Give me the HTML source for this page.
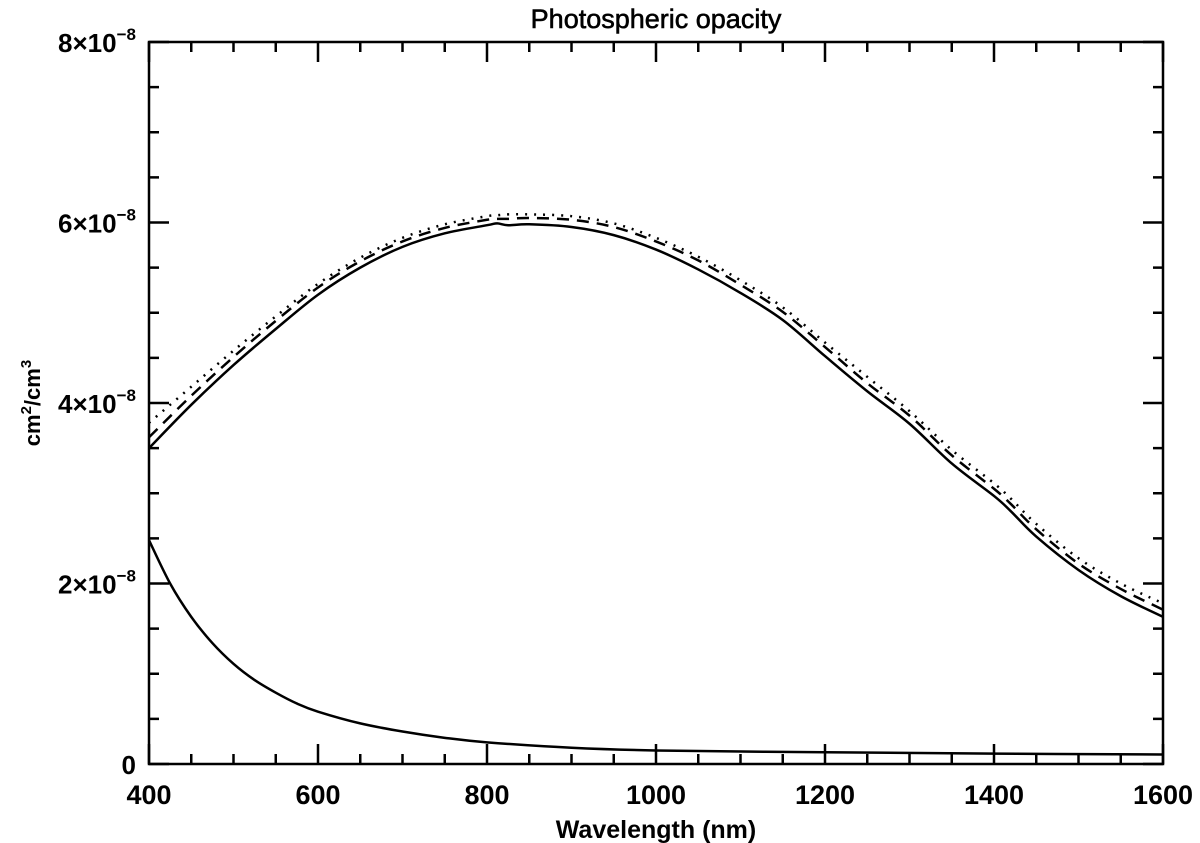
<!DOCTYPE html>
<html><head><meta charset="utf-8"><style>
body{margin:0;background:#fff;}
svg{display:block;font-family:"Liberation Sans",sans-serif;font-weight:bold;}
</style></head><body>
<svg id="chart" width="1200" height="843" viewBox="0 0 1200 843">
<text x="656" y="28" font-size="27" text-anchor="middle" font-weight="normal" stroke="#000" stroke-width="0.6">Photospheric opacity</text>
<g id="axes"></g>
<g id="series"></g>
<text x="656" y="838" font-size="25" text-anchor="middle">Wavelength (nm)</text>
<text transform="translate(40,403) rotate(-90)" font-size="22" text-anchor="middle">cm<tspan font-size="15" dy="-9">2</tspan><tspan dy="9">/cm</tspan><tspan font-size="15" dy="-9">3</tspan></text>
</svg>
<script>
const wavelengths=[400,450,500,550,600,650,700,750,800,812,825,850,900,950,1000,1050,1100,1150,1200,1250,1300,1350,1400,1420,1450,1500,1550,1600];
const solidVals=[3.50,3.98,4.42,4.82,5.20,5.50,5.73,5.88,5.97,5.99,5.97,5.98,5.95,5.86,5.70,5.48,5.22,4.92,4.52,4.13,3.77,3.33,2.97,2.80,2.52,2.15,1.86,1.63];
const dashedVals=[3.62,4.08,4.51,4.91,5.28,5.57,5.79,5.94,6.03,6.04,6.04,6.05,6.03,5.95,5.79,5.58,5.31,5.01,4.62,4.22,3.86,3.42,3.05,2.88,2.60,2.22,1.94,1.71];
const dottedVals=[3.78,4.18,4.58,4.96,5.32,5.61,5.83,5.98,6.07,6.08,6.09,6.09,6.07,5.99,5.83,5.62,5.36,5.06,4.67,4.29,3.91,3.48,3.11,2.94,2.66,2.28,2.00,1.78];
const lowWavelengths=[400,425,450,475,500,525,550,575,600,650,700,750,800,900,1000,1200,1400,1600];
const lowVals=[2.48,2.00,1.63,1.34,1.11,0.93,0.79,0.67,0.58,0.45,0.36,0.29,0.24,0.18,0.15,0.13,0.115,0.105];
const xTicks=[400,600,800,1000,1200,1400,1600];
const yTicks=[0,2,4,6,8];
const yTickLabels=["0","2×10","4×10","6×10","8×10"];

const X0=149,X1=1163,Y0=764,Y1=42;
const xs=v=>X0+(v-400)/1200*(X1-X0);
const ys=v=>Y0-v/8*(Y0-Y1);
const NS="http://www.w3.org/2000/svg";
const axes=document.getElementById('axes'),series=document.getElementById('series');
function mk(tag,attrs,parent){const e=document.createElementNS(NS,tag);for(const k in attrs)e.setAttribute(k,attrs[k]);parent.appendChild(e);return e;}
const frame=mk('rect',{x:X0,y:Y1,width:X1-X0,height:Y0-Y1,fill:'none',stroke:'#000','stroke-width':2.5},axes);


for(let v=400;v<=1600;v+=50){const major=(v%200===0);const L=major?20:10;const x=xs(v);
 const t=mk('path',{d:`M${x},${Y0}V${Y0-L}M${x},${Y1}V${Y1+L}`,stroke:'#000','stroke-width':2.5},axes);
 
 }
xTicks.forEach(v=>{const t=mk('text',{x:xs(v),y:Y0+40,'font-size':27,'text-anchor':'middle'},axes);t.textContent=v;
 
 });
for(let v=0;v<=8;v+=0.5){const major=(v%2===0);const L=major?20:10;const y=ys(v);
 const t=mk('path',{d:`M${X0},${y}H${X0+L}M${X1},${y}H${X1-L}`,stroke:'#000','stroke-width':2.5},axes);
 
 }
yTicks.forEach((v,i)=>{const t=mk('text',{x:136,y:ys(v)+10,'font-size':26,'text-anchor':'end'},axes);
 
 
 if(v===0){t.textContent='0';}else{t.textContent=yTickLabels[i];const s=mk('tspan',{'font-size':17,dy:-12},t);s.textContent='−8';}
});
function pathFrom(xa,ya){const p=xa.map((w,i)=>[xs(w),ys(ya[i])]);let d=`M${p[0][0]},${p[0][1]}`;
 for(let i=0;i<p.length-1;i++){const p0=p[Math.max(0,i-1)],p1=p[i],p2=p[i+1],p3=p[Math.min(p.length-1,i+2)];
  const c1=[p1[0]+(p2[0]-p0[0])/6,p1[1]+(p2[1]-p0[1])/6],c2=[p2[0]-(p3[0]-p1[0])/6,p2[1]-(p3[1]-p1[1])/6];
  d+=`C${c1[0]},${c1[1]} ${c2[0]},${c2[1]} ${p2[0]},${p2[1]}`;}return d;}
const sDot=mk('path',{d:pathFrom(wavelengths,dottedVals),fill:'none',stroke:'#000','stroke-width':2.5,'stroke-dasharray':'2 7'},series);


const sDash=mk('path',{d:pathFrom(wavelengths,dashedVals),fill:'none',stroke:'#000','stroke-width':2.5,'stroke-dasharray':'12 8'},series);


const sSolid=mk('path',{d:pathFrom(wavelengths,solidVals),fill:'none',stroke:'#000','stroke-width':2.5},series);


const sLow=mk('path',{d:pathFrom(lowWavelengths,lowVals),fill:'none',stroke:'#000','stroke-width':2.5},series);


</script>
</body></html>
